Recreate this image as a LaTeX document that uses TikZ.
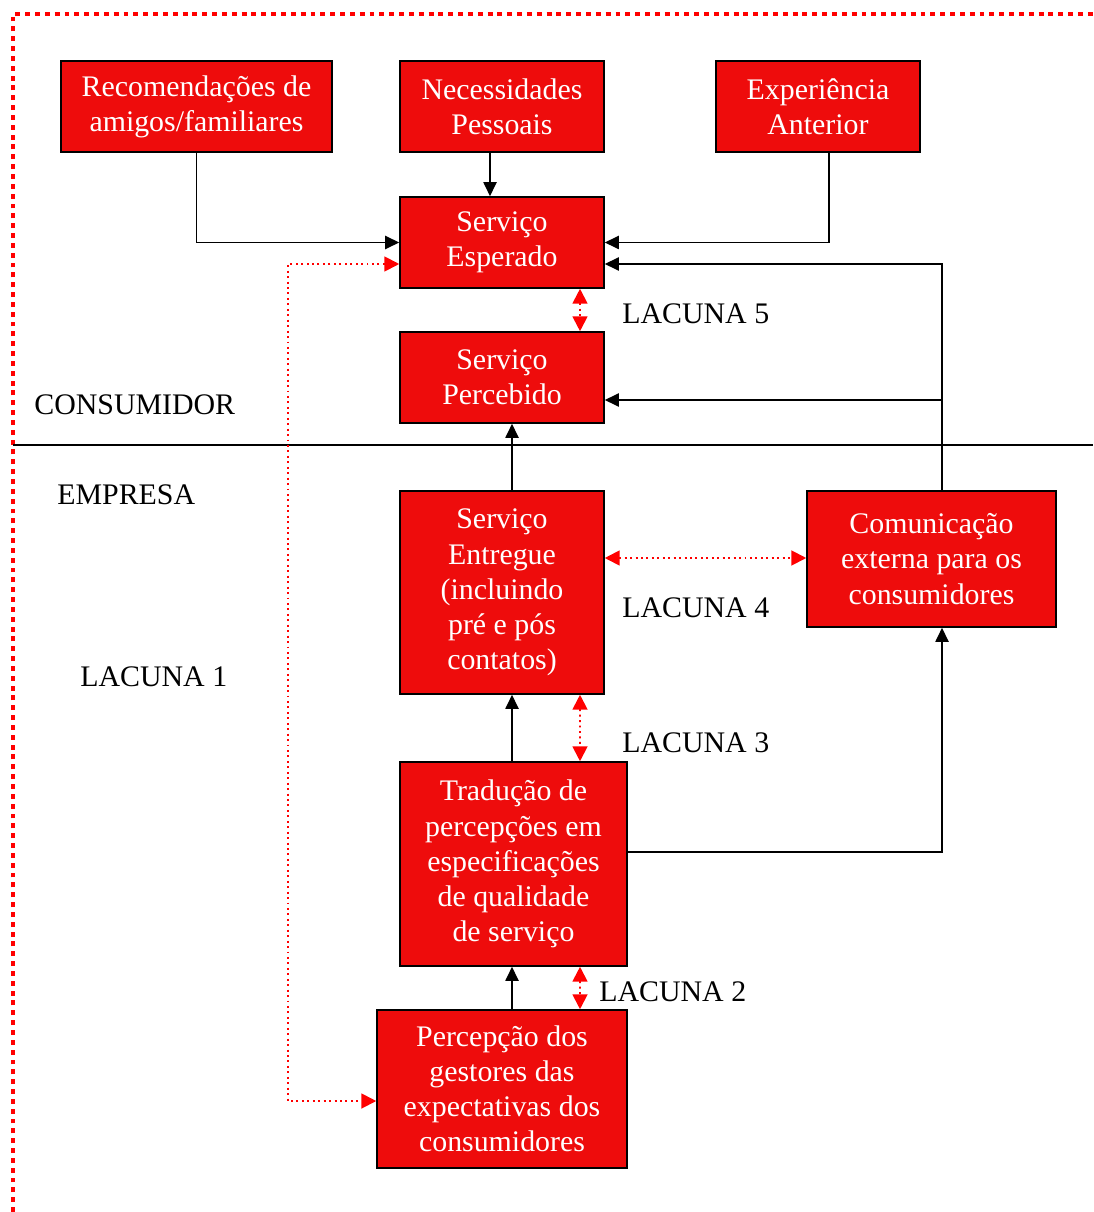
\documentclass[tikz,border=0pt]{standalone}
\usepackage{fontspec}
\setmainfont{Liberation Serif}
\usetikzlibrary{arrows.meta,calc}
\definecolor{boxred}{RGB}{238,12,12}
\begin{document}
\begin{tikzpicture}[x=0.02cm,y=-0.02cm,
  font=\fontsize{17}{20}\selectfont,
  box/.style={draw=black,line width=0.9pt,fill=boxred,text=white,align=center,inner sep=0pt},
  lbl/.style={anchor=west,inner sep=0pt,text=black},
  arr/.style={line width=0.85pt,-{Triangle[length=8pt,width=7.5pt]}},
  rdot/.style={red,line width=1.1pt,dotted,{Triangle[length=8.5pt,width=8.5pt]}-{Triangle[length=8.5pt,width=8.5pt]}}]
\useasboundingbox (0,0) rectangle (1093,1212);
% border
\coordinate (b1) at (13,1212);
\coordinate (b2) at (13,14);
\coordinate (b3) at (1093,14);
\draw[red,line width=2.8pt,dash pattern=on 2.8pt off 2.8pt] (b1) -- (b2) -- (b3);
% divider
\coordinate (sl) at (13,445);
\coordinate (sr) at (1093,445);
\draw[line width=0.85pt] (sl) -- (sr);
% boxes
\node[box,minimum width=5.42cm,minimum height=1.82cm] (rec) at (196.5,106.5) {Recomendações de\\amigos/familiares};
\node[box,minimum width=4.08cm,minimum height=1.82cm] (nec) at (502,106.5) {Necessidades\\Pessoais};
\node[box,minimum width=4.08cm,minimum height=1.82cm] (exp) at (818,106.5) {Experiência\\Anterior};
\node[box,minimum width=4.08cm,minimum height=1.82cm] (esp) at (502,242.5) {Serviço\\Esperado};
\node[box,minimum width=4.08cm,minimum height=1.82cm] (per) at (502,377.5) {Serviço\\Percebido};
\node[box,minimum width=4.08cm,minimum height=4.06cm] (ent) at (502,592.5) {Serviço\\Entregue\\(incluindo\\pré e pós\\contatos)};
\node[box,minimum width=4.98cm,minimum height=2.72cm] (com) at (931.5,559) {Comunicação\\externa para os\\consumidores};
\node[box,minimum width=4.54cm,minimum height=4.08cm] (tra) at (513.5,864) {Tradução de\\percepções em\\especificações\\de qualidade\\de serviço};
\node[box,minimum width=5.0cm,minimum height=3.16cm] (pcp) at (502,1089) {Percepção dos\\gestores das\\expectativas dos\\consumidores};
% labels
\node[lbl] (lcons) at (34,405) {CONSUMIDOR};
\node[lbl] (lemp) at (57,495) {EMPRESA};
\node[lbl] (l1) at (80,677) {LACUNA 1};
\node[lbl] (l5) at (622,314) {LACUNA 5};
\node[lbl] (l4) at (622,608) {LACUNA 4};
\node[lbl] (l3) at (622,743) {LACUNA 3};
\node[lbl] (l2) at (599,992) {LACUNA 2};
% black arrows
\draw[arr] (rec.south) |- (esp.west);
\draw[arr] ($(nec.south)+(-12,0)$) -- ($(esp.north)+(-12,0)$);
\draw[arr] ($(exp.south)+(11,0)$) |- (esp.east);
\draw[arr] ($(com.north)+(10.5,0)$) |- ($(esp.east)+(0,21.5)$);
\coordinate (jn) at ($(com.north)+(10.5,0)$);
\coordinate (pe) at ($(per.east)+(0,22.5)$);
\draw[arr] (jn |- pe) -- (pe);
\draw[arr] ($(ent.north)+(10,0)$) -- ($(per.south)+(10,0)$);
\draw[arr] ($(tra.north)+(-1.5,0)$) -- ($(ent.south)+(10,0)$);
\draw[arr] ($(pcp.north)+(10,0)$) -- ($(tra.south)+(-1.5,0)$);
\draw[arr] ($(tra.east)+(0,-12)$) -| ($(com.south)+(10.5,0)$);
% red dotted
\coordinate (gx) at (288,0);
\coordinate (ea) at ($(esp.west)+(0,21.5)$);
\coordinate (pa) at ($(pcp.west)+(0,12)$);
\draw[rdot] (ea) -| (gx |- pa) -- (pa);
\draw[rdot] ($(esp.south)+(78,0)$) -- ($(per.north)+(78,0)$);
\draw[rdot] ($(ent.south)+(78,0)$) -- ($(tra.north)+(66.5,0)$);
\draw[rdot] ($(tra.south)+(66.5,0)$) -- ($(pcp.north)+(78,0)$);
\coordinate (h4) at ($(ent.east)+(0,-34.5)$);
\draw[rdot] (h4) -- (h4 -| com.west);
\end{tikzpicture}
\end{document}
